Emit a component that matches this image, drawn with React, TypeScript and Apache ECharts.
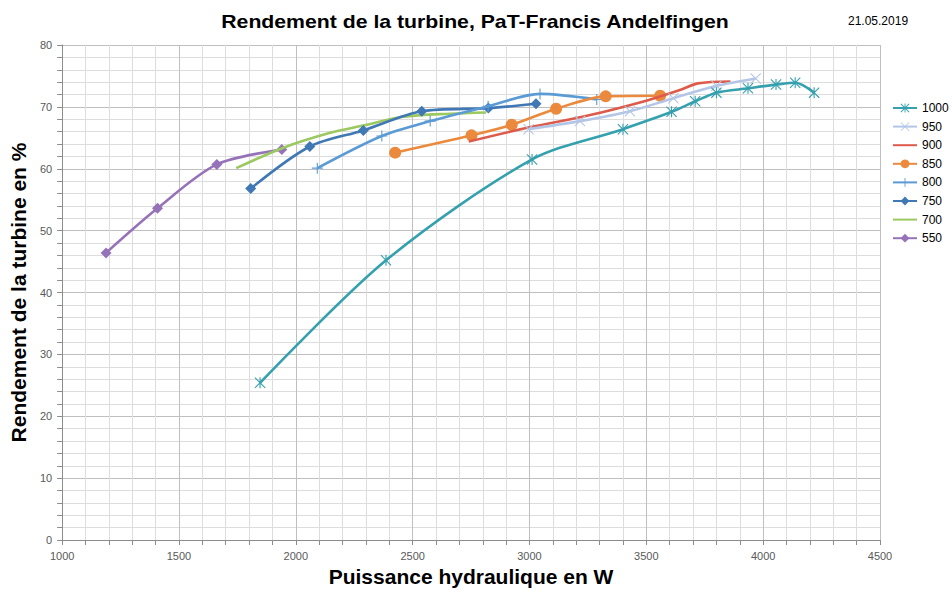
import React, { useEffect, useRef } from "react";
import * as echarts from "echarts";

const seriesNames = ["1000", "950", "900", "850", "800", "750", "700", "550"];

const x1000 = [1847, 2386, 3011, 3400, 3608, 3709, 3800, 3935, 4055, 4137, 4218];
const y1000 = [25.4, 45.2, 61.5, 66.4, 69.2, 70.9, 72.3, 73.0, 73.6, 73.9, 72.3];

const x950 = [2996, 3216, 3430, 3616, 3800, 3968];
const y950 = [66.4, 67.7, 69.3, 71.4, 73.4, 74.6];

const x900 = [2740, 3000, 3250, 3500, 3650, 3720, 3860];
const y900 = [64.4, 66.7, 68.6, 71.0, 72.8, 73.8, 74.1];

const x850 = [2425, 2752, 2924, 3114, 3326, 3559];
const y850 = [62.6, 65.4, 67.1, 69.7, 71.7, 71.8];

const x800 = [2092, 2368, 2575, 2823, 3045, 3288];
const y800 = [60.1, 65.3, 67.7, 70.1, 72.1, 71.2];

const x750 = [1807, 2060, 2289, 2539, 2824, 3028];
const y750 = [56.8, 63.6, 66.2, 69.3, 69.8, 70.5];

const x700 = [1745, 1947, 2147, 2289, 2460, 2660, 2815];
const y700 = [60.1, 63.4, 65.8, 67.0, 68.4, 68.9, 69.1];

const x550 = [1188, 1408, 1662, 1940];
const y550 = [46.4, 53.6, 60.7, 63.1];

const xTicks = [1000, 1500, 2000, 2500, 3000, 3500, 4000, 4500];
const yTicks = [0, 10, 20, 30, 40, 50, 60, 70, 80];

const colors = ["#35A0AE", "#B4C6E7", "#DE5A4A", "#EB8A3C", "#5B9BD5", "#3F78B5", "#9BC860", "#9673B9"];

const ASTERISK = "path://M9 0H11V20H9Z M0 1.4L1.4 0L20 18.6L18.6 20Z M18.6 0L20 1.4L1.4 20L0 18.6Z";
const CROSS = "path://M0 1.4L1.4 0L20 18.6L18.6 20Z M18.6 0L20 1.4L1.4 20L0 18.6Z";
const PLUS = "path://M9 0H11V20H9Z M0 9H20V11H0Z";

const zip = (xs: number[], ys: number[]) => xs.map((x, i) => [x, ys[i]]);

export default function App() {
  const ref = useRef<HTMLDivElement>(null);
  useEffect(() => {
    if (!ref.current) return;
    const chart = echarts.init(ref.current, undefined, { renderer: "svg" });
    const font = "Liberation Sans, Arial, sans-serif";
    const data = [
      zip(x1000, y1000),
      zip(x950, y950),
      zip(x900, y900),
      zip(x850, y850),
      zip(x800, y800),
      zip(x750, y750),
      zip(x700, y700),
      zip(x550, y550),
    ];
    const symbols = [ASTERISK, CROSS, "none", "circle", PLUS, "diamond", "none", "diamond"];
    const sizes = [11, 11, 0, 12, 11, 11, 0, 11];
    chart.setOption({
      animation: false,
      backgroundColor: "#ffffff",
      color: colors,
      graphic: [
        {
          type: "text",
          x: 475,
          y: 22,
          scaleX: 1.18,
          style: {
            text: "Rendement de la turbine, PaT-Francis Andelfingen",
            font: "bold 18px Liberation Sans, Arial, sans-serif",
            fill: "#000",
            align: "center",
            verticalAlign: "middle",
          },
        },
        {
          type: "text",
          left: 848,
          top: 15,
          style: { text: "21.05.2019", font: "12px Liberation Sans, Arial, sans-serif", fill: "#000" },
        },
      ],
      legend: {
        orient: "vertical",
        left: 892,
        top: 102,
        padding: 0,
        itemWidth: 24,
        itemHeight: 11,
        itemGap: 6.6,
        textStyle: { fontFamily: font, fontSize: 12, color: "#000" },
        data: seriesNames.map((n, i) =>
          symbols[i] === "none" ? { name: n, itemStyle: { opacity: 0 } } : { name: n }
        ),
      },
      grid: { left: 62, right: 72, top: 45, bottom: 49 },
      xAxis: {
        type: "value",
        min: xTicks[0],
        max: xTicks[xTicks.length - 1],
        interval: 500,
        name: "Puissance hydraulique en W",
        nameLocation: "middle",
        nameGap: 26,
        nameTextStyle: { fontFamily: font, fontSize: 21, fontWeight: "bold", color: "#000" },
        axisLine: { lineStyle: { color: "#8C8C8C" } },
        axisTick: { show: true, length: 5, lineStyle: { color: "#8C8C8C" } },
        minorTick: { show: true, splitNumber: 5, length: 5, lineStyle: { color: "#8C8C8C" } },
        axisLabel: {
          fontFamily: font,
          fontSize: 11,
          color: "#595959",
          margin: 10,
          formatter: (v: number) => String(v),
        },
        splitLine: { show: true, lineStyle: { color: "#BFBFBF", width: 1 } },
        minorSplitLine: { show: true, lineStyle: { color: "#DDDDDD", width: 1 } },
      },
      yAxis: {
        type: "value",
        min: yTicks[0],
        max: yTicks[yTicks.length - 1],
        interval: 10,
        name: "Rendement de la turbine en %",
        nameLocation: "middle",
        nameGap: 32,
        nameTextStyle: { fontFamily: font, fontSize: 21, fontWeight: "bold", color: "#000" },
        axisLine: { show: true, lineStyle: { color: "#8C8C8C" } },
        axisTick: { show: true, length: 5, lineStyle: { color: "#8C8C8C" } },
        minorTick: { show: true, splitNumber: 5, length: 5, lineStyle: { color: "#8C8C8C" } },
        axisLabel: {
          fontFamily: font,
          fontSize: 11,
          color: "#595959",
          margin: 10,
          formatter: (v: number) => String(v),
        },
        splitLine: { show: true, lineStyle: { color: "#BFBFBF", width: 1 } },
        minorSplitLine: { show: true, lineStyle: { color: "#DDDDDD", width: 1 } },
      },
      series: seriesNames.map((name, i) => ({
        name,
        type: "line",
        data: data[i],
        smooth: 0.3,
        symbol: symbols[i],
        symbolSize: sizes[i],
        showSymbol: symbols[i] !== "none",
        lineStyle: { width: 2.6, color: colors[i] },
        itemStyle: { color: colors[i] },
        z: 10 - i,
      })),
    });
    return () => chart.dispose();
  }, []);
  return (
    <div
      ref={ref}
      style={{ position: "fixed", left: 0, top: 0, width: 952, height: 592, background: "#fff" }}
    />
  );
}
